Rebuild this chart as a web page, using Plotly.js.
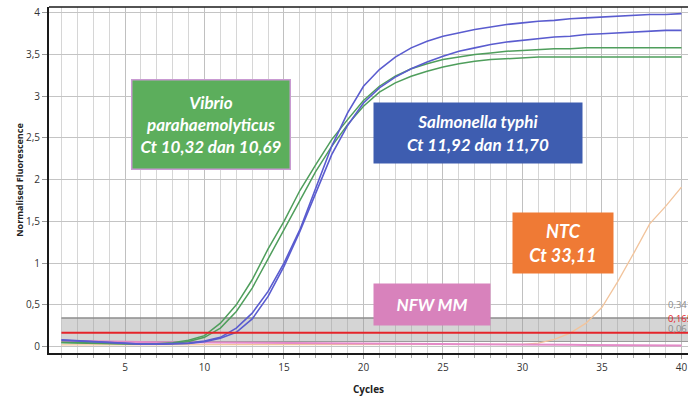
<!DOCTYPE html>
<html><head><meta charset="utf-8">
<script src="https://cdn.plot.ly/plotly-3.0.1.min.js"></script>
<style>html,body{margin:0;padding:0;background:#fff}</style>
</head><body><div id="chart" style="width:688px;height:397px"></div>
<script>
// Cycle numbers
const cycles = [1,2,3,4,5,6,7,8,9,10,11,12,13,14,15,16,17,18,19,20,21,22,23,24,25,26,27,28,29,30,31,32,33,34,35,36,37,38,39,40];

// Vibrio parahaemolyticus replicates (Ct 10,32 and 10,69)
const vibrioA = [0.05,0.045,0.04,0.035,0.032,0.03,0.032,0.045,0.075,0.13,0.28,0.50,0.80,1.17,1.50,1.87,2.18,2.48,2.72,2.95,3.12,3.24,3.33,3.39,3.44,3.47,3.50,3.52,3.54,3.55,3.56,3.57,3.57,3.58,3.58,3.58,3.58,3.58,3.58,3.58];
const vibrioB = [0.045,0.04,0.035,0.03,0.028,0.027,0.028,0.035,0.06,0.11,0.22,0.42,0.70,1.05,1.40,1.76,2.10,2.40,2.66,2.88,3.05,3.16,3.24,3.30,3.35,3.39,3.42,3.44,3.45,3.46,3.47,3.47,3.47,3.47,3.47,3.47,3.47,3.47,3.47,3.47];

// Salmonella typhi replicates (Ct 11,70 and 11,92)
const salmA = [0.08,0.07,0.055,0.045,0.035,0.03,0.028,0.03,0.04,0.065,0.11,0.22,0.40,0.66,1.00,1.40,1.90,2.40,2.80,3.12,3.32,3.47,3.58,3.66,3.72,3.76,3.80,3.83,3.86,3.88,3.90,3.91,3.93,3.94,3.95,3.96,3.97,3.98,3.98,3.99];
const salmB = [0.075,0.065,0.05,0.04,0.032,0.028,0.026,0.028,0.036,0.058,0.10,0.17,0.33,0.60,0.96,1.38,1.85,2.30,2.65,2.92,3.10,3.23,3.33,3.41,3.48,3.54,3.58,3.62,3.65,3.67,3.69,3.71,3.72,3.74,3.75,3.76,3.77,3.78,3.79,3.79];

// NTC (Ct 33,11)
const ntc = [0.02,0.02,0.02,0.02,0.02,0.02,0.02,0.02,0.02,0.02,0.02,0.02,0.02,0.02,0.02,0.02,0.02,0.02,0.02,0.02,0.02,0.02,0.02,0.02,0.02,0.02,0.02,0.02,0.02,0.025,0.04,0.085,0.16,0.28,0.47,0.78,1.12,1.47,1.68,1.91];

// NFW MM
const nfw = [0.07,0.065,0.06,0.058,0.055,0.053,0.052,0.051,0.05,0.05,0.049,0.048,0.047,0.046,0.045,0.044,0.043,0.042,0.041,0.04,0.039,0.038,0.037,0.036,0.035,0.034,0.032,0.03,0.028,0.026,0.024,0.022,0.02,0.018,0.016,0.015,0.014,0.013,0.012,0.011];

// Threshold band
const bandX = [1, 40.41];
const bandUpper = 0.341;
const threshold = 0.165;
const bandLower = 0.06;
const bandLabels = ['0,341', '0,165', '0,06'];

const xTicks = [5,10,15,20,25,30,35,40];

const flat = v => bandX.map(() => v);

const traces = [
  {x: bandX, y: flat(bandLower), mode: 'lines', line: {color: '#9a9a9a', width: 1}, hoverinfo: 'skip'},
  {x: bandX, y: flat(bandUpper), mode: 'lines', line: {color: '#8c8c8c', width: 1.5}, fill: 'tonexty', fillcolor: 'rgba(150,150,150,0.4)', hoverinfo: 'skip'},
  {x: cycles, y: ntc, mode: 'lines', line: {color: '#f2c49c', width: 1.3}},
  {x: cycles, y: nfw, mode: 'lines', line: {color: '#e48ac8', width: 2}},
  {x: cycles, y: vibrioA, mode: 'lines', line: {color: '#4f9e5c', width: 1.5}},
  {x: cycles, y: vibrioB, mode: 'lines', line: {color: '#4f9e5c', width: 1.5}},
  {x: cycles, y: salmA, mode: 'lines', line: {color: '#5a5ccf', width: 1.6}},
  {x: cycles, y: salmB, mode: 'lines', line: {color: '#5a5ccf', width: 1.6}},
  {x: bandX, y: flat(threshold), mode: 'lines', line: {color: '#e5242a', width: 2.2}, hoverinfo: 'skip'}
];

const boxFont = {family: 'Lato, "Open Sans", sans-serif', size: 17, color: '#ffffff', weight: 'bold', style: 'italic'};

const layout = {
  width: 688, height: 397,
  margin: {l: 49, r: 0, t: 7, b: 44},
  paper_bgcolor: '#ffffff', plot_bgcolor: '#ffffff',
  showlegend: false,
  separators: ',.',
  font: {family: '"Open Sans", sans-serif', color: '#333'},
  xaxis: {
    range: [0.22, 40.41],
    tickmode: 'array', tickvals: xTicks,
    showgrid: true, gridcolor: '#c0c0c0', gridwidth: 1,
    minor: {tick0: 0, dtick: 1, showgrid: true, gridcolor: '#d6d6d6', gridwidth: 1, ticks: 'outside', ticklen: 3, tickcolor: '#aaa'},
    ticks: 'outside', ticklen: 4, tickcolor: '#999',
    showline: true, linecolor: '#1a1a1a', linewidth: 2,
    zeroline: false,
    tickfont: {size: 10, color: '#333'},
    title: {text: 'Cycles', font: {size: 10, color: '#222', weight: 'bold'}, standoff: 13}
  },
  yaxis: {
    range: [-0.078, 4.07],
    tick0: 0, dtick: 0.5,
    showgrid: true, gridcolor: '#c4c4c4', gridwidth: 1,
    ticks: 'outside', ticklen: 5, tickcolor: '#999',
    showline: true, linecolor: '#1a1a1a', linewidth: 2,
    zeroline: false,
    tickfont: {size: 10, color: '#333'},
    title: {text: 'Normalised Fluorescence', font: {size: 9, color: '#222', weight: 'bold'}, standoff: 1}
  },
  shapes: [
    {type: 'line', xref: 'paper', yref: 'paper', x0: 0, x1: 1, y0: 1, y1: 1, line: {color: '#1a1a1a', width: 1.5}}
  ],
  annotations: [
    {xref: 'paper', yref: 'paper', x: 0.2535, y: 0.6604, xanchor: 'center', yanchor: 'middle', width: 157, height: 88,
     bgcolor: '#5cae5c', bordercolor: '#c99ad2', borderwidth: 1.5, borderpad: 0, showarrow: false, align: 'center', valign: 'middle',
     text: 'Vibrio<br>parahaemolyticus<br>Ct 10,32 dan 10,69', font: boxFont},
    {xref: 'paper', yref: 'paper', x: 0.6714, y: 0.6358, xanchor: 'center', yanchor: 'middle', width: 208, height: 60,
     bgcolor: '#3e5db0', borderpad: 0, showarrow: false, align: 'center', valign: 'middle',
     text: 'Salmonella typhi<br>Ct 11,92 dan 11,70', font: boxFont},
    {xref: 'paper', yref: 'paper', x: 0.8044, y: 0.3179, xanchor: 'center', yanchor: 'middle', width: 100, height: 60,
     bgcolor: '#ef7a35', borderpad: 0, showarrow: false, align: 'center', valign: 'middle',
     text: 'NTC<br>Ct 33,11', font: Object.assign({}, boxFont, {size: 18})},
    {xref: 'paper', yref: 'paper', x: 0.5994, y: 0.1402, xanchor: 'center', yanchor: 'middle', width: 116, height: 41,
     bgcolor: '#d882bc', borderpad: 0, showarrow: false, align: 'center', valign: 'middle',
     text: 'NFW MM', font: Object.assign({}, boxFont, {size: 17})},
    {xref: 'paper', yref: 'paper', x: 0.966, y: 0.1416, xanchor: 'left', yanchor: 'middle', showarrow: false,
     text: bandLabels[0], font: {size: 9.5, color: '#8a8a8a'}},
    {xref: 'paper', yref: 'paper', x: 0.966, y: 0.0983, xanchor: 'left', yanchor: 'middle', showarrow: false,
     text: bandLabels[1], font: {size: 9.5, color: '#e5242a'}},
    {xref: 'paper', yref: 'paper', x: 0.966, y: 0.0722, xanchor: 'left', yanchor: 'middle', showarrow: false,
     text: bandLabels[2], font: {size: 9.5, color: '#8a8a8a'}}
  ]
};

Plotly.newPlot('chart', traces, layout, {displayModeBar: false, staticPlot: true});
</script>
</body></html>
